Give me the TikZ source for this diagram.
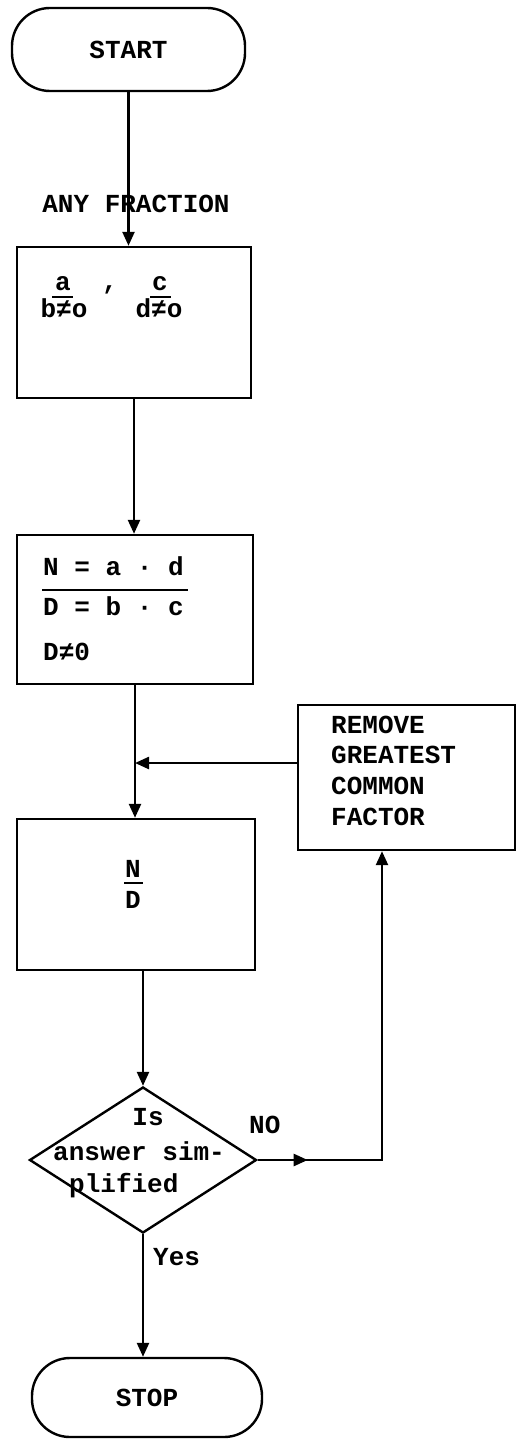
\documentclass[tikz,border=0pt]{standalone}
\usepackage{fontspec}
\setmainfont{Liberation Mono}
\usetikzlibrary{shapes.geometric,arrows.meta,decorations.markings}
\begin{document}
\begin{tikzpicture}[x=1pt,y=-1pt,
  line width=2.4pt,
  txt/.style={font=\fontsize{26}{30}\selectfont\bfseries, inner sep=0pt, anchor=base west},
  txtc/.style={font=\fontsize{26}{30}\selectfont\bfseries, inner sep=0pt, anchor=base},
  term/.style={draw, rectangle, rounded corners=38pt, font=\fontsize{26}{30}\selectfont\bfseries},
  boxn/.style={draw, rectangle, inner sep=0pt},
  arr/.style={-{Triangle[length=14pt,width=12pt]}},
  thinbar/.style={line width=2pt},
]
\useasboundingbox (0,0) rectangle (518,1439);

% nodes
\node[term, minimum width=233pt, minimum height=83pt] (start) at (128.5,49.5) {START};
\node[boxn, minimum width=234pt, minimum height=151pt] (box1) at (134,322.5) {};
\node[boxn, minimum width=236pt, minimum height=149pt] (box2) at (135,609.5) {};
\node[boxn, minimum width=238pt, minimum height=151pt] (box3) at (136,894.5) {};
\node[boxn, minimum width=217pt, minimum height=145pt] (rem) at (406.5,777.5) {};
\node[draw, diamond, inner sep=0pt, minimum width=227pt, minimum height=146pt] (dia) at (143,1160) {};
\node[term, minimum width=230pt, minimum height=79pt] (stop) at (147,1397.5) {STOP};

% label on first connector
\node[txtc] (anyfr) at (136,213) {ANY FRACTION};

% box1 content
\node[txtc] (n1) at (63,290) {a};
\node[txtc] (d1) at (64,317) {b≠o};
\node[txtc] (comma) at (110,289) {,};
\node[txtc] (n2) at (160,290) {c};
\node[txtc] (d2) at (159,317) {d≠o};
\draw[thinbar] (52,297) -- (73,297);
\draw[thinbar] (150,297) -- (171,297);

% box2 content
\node[txt] (nl) at (42,575) {N = a · d};
\node[txt] (dl) at (42,615) {D = b · c};
\node[txt] (dn) at (42,660) {D≠0};
\draw[thinbar] (42,590) -- (188,590);

% box3 content
\node[txtc] (nn) at (133,877) {N};
\node[txtc] (dd) at (133,908) {D};
\draw[thinbar] (124,883) -- (143,883);

% remove box text
\node[txt] (r1) at (330,733) {REMOVE};
\node[txt] (r2) at (330,763) {GREATEST};
\node[txt] (r3) at (330,794) {COMMON};
\node[txt] (r4) at (330,825) {FACTOR};

% diamond text
\node[txtc] (q1) at (148,1125) {Is};
\node[txt] (q2) at (52,1160) {answer sim-};
\node[txt] (q3) at (68,1192) {plified};

% branch labels
\node[txt] (no) at (248,1133) {NO};
\node[txt] (yes) at (152,1265) {Yes};

% connectors
\coordinate (mj) at (135,763);
\coordinate (nc) at (382,1160);
\draw[arr] (start.south) -- (start.south |- box1.north);
\draw[arr] (box1.south) -- (box1.south |- box2.north);
\draw[arr] (box2.south) -- (box2.south |- box3.north);
\draw[arr] (rem.west |- mj) -- (mj);
\draw[arr] (box3.south -| dia.north) -- (dia.north);
\draw[arr] (dia.south) -- (dia.south |- stop.north);
\draw[arr, postaction={decorate}, decoration={markings, mark=at position 50pt with {\arrow{Triangle[length=14pt,width=12pt]}}}]
  (dia.east) -- (nc) -- (nc |- rem.south);
\end{tikzpicture}
\end{document}
